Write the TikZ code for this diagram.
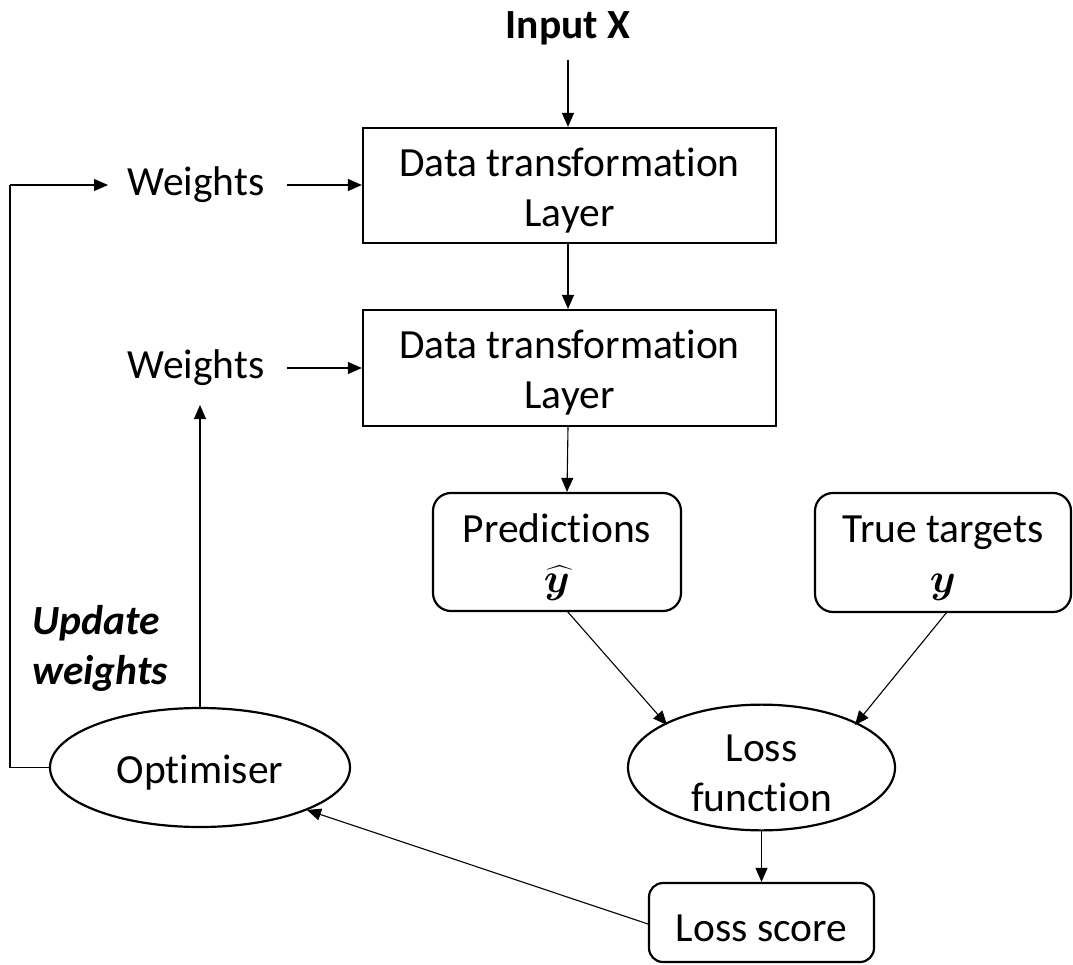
\RequirePackage{fix-cm}
\documentclass[tikz,border=0pt]{standalone}
\usepackage{amsmath}
\usepackage{bm}
\usepackage{fontspec}
\setmainfont[Ligatures={NoCommon}]{Carlito}
\usetikzlibrary{arrows.meta,shapes.geometric}
% tall strut on the first line sets the text a little lower in its shape
\newcommand\lowstrut{\rule{0pt}{0.93em}}

\begin{document}
\begin{tikzpicture}[x=1pt,y=-1pt,
  every node/.style={font=\fontsize{41.5}{50}\selectfont, text=black, inner sep=0pt, align=center},
  layerbox/.style={draw, line width=2.2pt, minimum width=413pt},
  softbox/.style={draw, line width=2.2pt, rounded corners=18pt},
  oval/.style={draw, ellipse, line width=2.2pt},
  conn/.style={line width=1.1pt, -{Triangle[length=14pt,width=12pt]}},
  plain/.style={line width=1.1pt}
]
\useasboundingbox (0,0) rectangle (1073,965);

% input and the two transformation layers
\node (in) at (568,28) {\bfseries Input X};
\node[layerbox, minimum height=115pt] (l1) at (569.5,185.5) {\lowstrut Data transformation\\Layer};
\node[layerbox, minimum height=116pt] (l2) at (569.5,368) {\lowstrut Data transformation\\Layer};

% weights feeding each layer
\node (w1) at (196,185) {Weights};
\node (w2) at (196,368) {Weights};

% predictions and targets
\node[softbox, minimum width=248pt, minimum height=118pt] (pred) at (557,552) {\lowstrut Predictions\\$\widehat{\bm{y}}$};
\node[softbox, minimum width=256pt, minimum height=119pt] (true) at (943,552.5) {\lowstrut True targets\\$\bm{y}$};

% loss and optimisation
\node[oval, minimum width=267pt, minimum height=119pt] (loss) at (761.5,767.5) {\lowstrut Loss\\function};
\node[softbox, minimum width=225pt, minimum height=79pt, rounded corners=14pt] (score) at (761.5,922.5) {\lowstrut Loss score};
\node[oval, minimum width=300pt, minimum height=119pt] (opt) at (200,767.5) {\lowstrut Optimiser};
\node[font=\fontsize{41.5}{50}\selectfont\bfseries\itshape, align=left] (upd) at (100,648) {Update\\weights};

% helper points
\coordinate (inx) at (568,60);
\coordinate (lcorner) at (10,767.5);
\coordinate (tcorner) at (10,185);
\coordinate (w1in) at (108,185);
\coordinate (w1out) at (287,185);
\coordinate (w2out) at (287,368);
\coordinate (w2in) at (200,405);
\coordinate (predout) at (567,611);
\coordinate (lossinl) at (667,725);
\coordinate (trueout) at (947,612);
\coordinate (lossinr) at (855,725);
\coordinate (scoreout) at (648,924);
\coordinate (optin) at (307,810);

% connectors
\draw[conn] (inx) -- (l1.north -| inx);
\draw[conn] (l1.south -| inx) -- (l2.north -| inx);
\draw[conn] (l2.south -| inx) -- (pred.north -| predout);
\draw[conn] (w1out) -- (l1.west |- w1out);
\draw[conn] (w2out) -- (l2.west |- w2out);
\draw[conn] (predout) -- (lossinl);
\draw[conn] (trueout) -- (lossinr);
\draw[conn] (loss.south) -- (score.north);
\draw[conn] (scoreout) -- (optin);
\draw[conn] (opt.north) -- (w2in);
\draw[plain] (opt.west) -- (lcorner) -- (tcorner);
\draw[conn] (tcorner) -- (w1in);
\end{tikzpicture}
\end{document}
